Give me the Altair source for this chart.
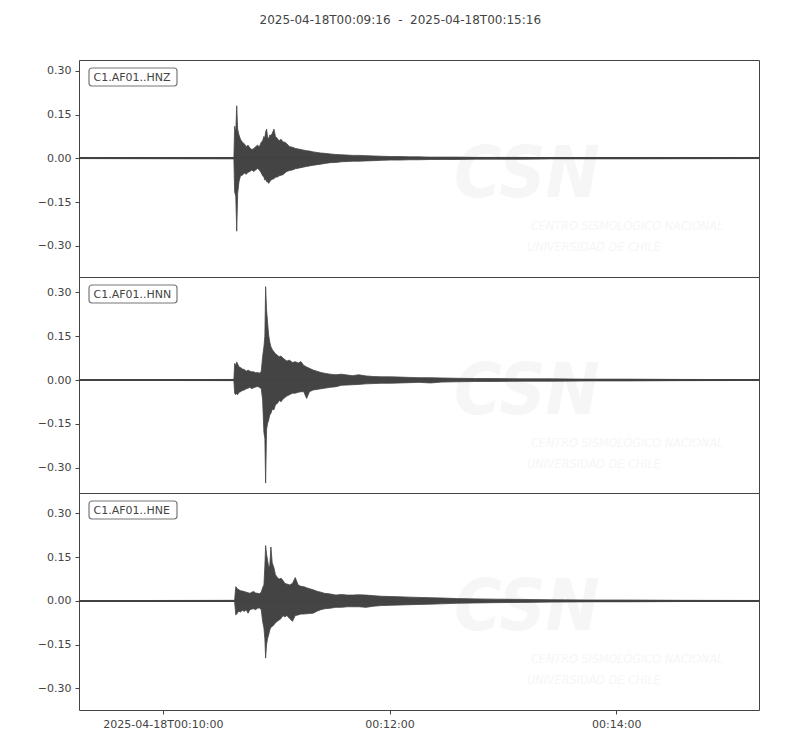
import altair as alt
import pandas as pd

# ---------------- data ----------------
START = pd.Timestamp("2025-04-18T00:09:15.600")
TITLE = "2025-04-18T00:09:16\u00a0\u00a0-\u00a0\u00a02025-04-18T00:15:16"
channels = ["C1.AF01..HNZ", "C1.AF01..HNN", "C1.AF01..HNE"]

# seconds after START
t_sec = [0, 82.0, 82.4, 83.0, 83.5, 84.0, 84.7, 85.5, 86.5, 87.5,
         88.5, 89.5, 90.5, 91.5, 92.5, 93.5, 94.5, 95.5, 96.5, 97.2,
         97.9, 98.4, 98.8, 99.3, 99.8, 100.4, 101.0, 101.6, 102.3, 103.2,
         104.0, 105.0, 106.0, 107.0, 108.0, 109.0, 110.0, 111.5, 113.0, 114.5,
         116.0, 117.5, 119.0, 120.5, 122.0, 124.0, 126.0, 128.0, 130.0, 133.0,
         136.0, 139.0, 142.0, 145.0, 148.0, 152.0, 156.0, 160.0, 165.0, 170.0,
         175.0, 180.0, 186.0, 192.0, 200.0, 210.0, 220.0, 235.0, 250.0, 270.0,
         290.0, 320.0, 360.0]

# upper / lower envelope of each trace
hnz_hi = [0.001, 0.002, 0.11, 0.09, 0.18, 0.10, 0.08, 0.065, 0.055, 0.05,
          0.04, 0.045, 0.035, 0.03, 0.033, 0.04, 0.045, 0.04, 0.055, 0.06,
          0.075, 0.07, 0.09, 0.10, 0.075, 0.065, 0.08, 0.078, 0.085, 0.10,
          0.075, 0.068, 0.06, 0.065, 0.056, 0.055, 0.05, 0.04, 0.038, 0.034,
          0.032, 0.03, 0.028, 0.026, 0.025, 0.022, 0.02, 0.018, 0.017, 0.015,
          0.013, 0.012, 0.011, 0.01, 0.01, 0.009, 0.008, 0.007, 0.006, 0.006,
          0.005, 0.005, 0.004, 0.004, 0.004, 0.003, 0.003, 0.003, 0.002, 0.002,
          0.002, 0.0015, 0.001]
hnz_lo = [-0.001, -0.002, -0.115, -0.13, -0.25, -0.12, -0.08, -0.06, -0.058, -0.05,
          -0.055, -0.048, -0.045, -0.04, -0.045, -0.04, -0.035, -0.04, -0.05, -0.06,
          -0.065, -0.075, -0.07, -0.08, -0.08, -0.086, -0.08, -0.075, -0.072, -0.07,
          -0.065, -0.064, -0.06, -0.058, -0.056, -0.05, -0.045, -0.042, -0.04, -0.036,
          -0.034, -0.032, -0.03, -0.028, -0.026, -0.024, -0.022, -0.02, -0.018, -0.015,
          -0.014, -0.012, -0.011, -0.01, -0.01, -0.009, -0.008, -0.007, -0.006, -0.006,
          -0.005, -0.005, -0.004, -0.004, -0.004, -0.003, -0.003, -0.003, -0.002, -0.002,
          -0.002, -0.0015, -0.001]

hnn_hi = [0.001, 0.002, 0.057, 0.05, 0.062, 0.055, 0.045, 0.043, 0.038, 0.036,
          0.03, 0.034, 0.03, 0.028, 0.028, 0.025, 0.026, 0.023, 0.03, 0.08,
          0.114, 0.15, 0.32, 0.24, 0.20, 0.154, 0.13, 0.114, 0.105, 0.097,
          0.09, 0.085, 0.08, 0.082, 0.075, 0.07, 0.065, 0.068, 0.06, 0.063,
          0.058, 0.063, 0.05, 0.045, 0.04, 0.034, 0.03, 0.026, 0.023, 0.02,
          0.018, 0.02, 0.017, 0.015, 0.018, 0.014, 0.012, 0.011, 0.011, 0.01,
          0.009, 0.008, 0.008, 0.007, 0.006, 0.005, 0.005, 0.004, 0.004, 0.003,
          0.003, 0.002, 0.0015]
hnn_lo = [-0.001, -0.002, -0.045, -0.05, -0.045, -0.05, -0.042, -0.04, -0.036, -0.034,
          -0.03, -0.028, -0.025, -0.03, -0.026, -0.024, -0.022, -0.025, -0.03, -0.068,
          -0.18, -0.20, -0.353, -0.17, -0.15, -0.137, -0.12, -0.114, -0.10, -0.102,
          -0.085, -0.08, -0.07, -0.074, -0.065, -0.06, -0.055, -0.05, -0.045, -0.045,
          -0.042, -0.04, -0.04, -0.063, -0.04, -0.034, -0.032, -0.03, -0.028, -0.025,
          -0.023, -0.018, -0.017, -0.016, -0.015, -0.013, -0.012, -0.011, -0.011, -0.01,
          -0.009, -0.008, -0.01, -0.007, -0.006, -0.005, -0.005, -0.004, -0.004, -0.003,
          -0.003, -0.002, -0.0015]

hne_hi = [0.001, 0.002, 0.003, 0.049, 0.045, 0.04, 0.038, 0.035, 0.034, 0.032,
          0.03, 0.028, 0.026, 0.03, 0.032, 0.027, 0.026, 0.025, 0.03, 0.045,
          0.055, 0.12, 0.19, 0.16, 0.14, 0.117, 0.12, 0.185, 0.13, 0.114,
          0.09, 0.08, 0.075, 0.078, 0.07, 0.06, 0.058, 0.055, 0.06, 0.08,
          0.055, 0.05, 0.049, 0.045, 0.042, 0.038, 0.033, 0.03, 0.026, 0.024,
          0.02, 0.022, 0.02, 0.02, 0.021, 0.02, 0.018, 0.016, 0.015, 0.014,
          0.013, 0.012, 0.011, 0.01, 0.008, 0.007, 0.006, 0.005, 0.004, 0.003,
          0.003, 0.002, 0.0015]
hne_lo = [-0.001, -0.002, -0.003, -0.048, -0.045, -0.04, -0.035, -0.038, -0.032, -0.036,
          -0.03, -0.042, -0.03, -0.028, -0.027, -0.03, -0.025, -0.024, -0.03, -0.07,
          -0.093, -0.13, -0.196, -0.15, -0.13, -0.116, -0.10, -0.09, -0.088, -0.082,
          -0.075, -0.07, -0.065, -0.06, -0.05, -0.055, -0.05, -0.06, -0.07, -0.05,
          -0.048, -0.045, -0.045, -0.044, -0.043, -0.042, -0.035, -0.03, -0.027, -0.025,
          -0.022, -0.022, -0.02, -0.02, -0.02, -0.022, -0.018, -0.016, -0.015, -0.014,
          -0.013, -0.012, -0.011, -0.01, -0.008, -0.007, -0.006, -0.005, -0.004, -0.003,
          -0.003, -0.002, -0.0015]

highs = [hnz_hi, hnn_hi, hne_hi]
lows = [hnz_lo, hnn_lo, hne_lo]
y_domains = [[-0.407, 0.337], [-0.387, 0.353], [-0.374, 0.370]]
y_ticks = [-0.30, -0.15, 0.0, 0.15, 0.30]

# ---------------- styling ----------------
INK = "#444444"
FONT = "DejaVu Sans"
WM_FONT = "Liberation Sans Narrow, DejaVu Sans Condensed, DejaVu Sans"
WM_COLOR = "#f6f6f6"
W = 680
HEIGHTS = [217, 216, 217]


def dt(m, s, ms=0):
    return alt.DateTime(year=2025, month=4, date=18, hours=0, minutes=m,
                        seconds=s, milliseconds=ms, utc=True)


x_domain = [dt(9, 15, 600), dt(15, 15, 600)]
x_ticks = [dt(10, 0), dt(12, 0), dt(14, 0)]


def panel(i, show_x):
    times = [(START + pd.to_timedelta(s, unit="s")).strftime("%Y-%m-%dT%H:%M:%S.%f")[:-3] + "Z"
             for s in t_sec]
    df = pd.DataFrame({"time": times, "hi": highs[i], "lo": lows[i]})
    if show_x:
        xaxis = alt.Axis(values=x_ticks, title=None, grid=False, domain=False,
                         labelExpr="utcFormat(datum.value, '%H:%M') == '00:10' ? "
                                   "utcFormat(datum.value, '%Y-%m-%dT%H:%M:%S') : "
                                   "utcFormat(datum.value, '%H:%M:%S')")
    else:
        xaxis = None
    x = alt.X("time:T", scale=alt.Scale(type="utc", domain=x_domain), axis=xaxis)
    y = alt.Y("hi:Q", scale=alt.Scale(domain=y_domains[i], nice=False, zero=False),
              axis=alt.Axis(values=y_ticks, format=".2f", title=None, grid=False,
                            domain=False))

    one = alt.Chart(pd.DataFrame({"label": [channels[i]]}))
    wm_big = one.mark_text(text="CSN", font=WM_FONT, fontSize=72, fontStyle="italic",
                           fontWeight="bold", color=WM_COLOR, align="left",
                           baseline="alphabetic").encode(
        x=alt.value(375), y=alt.value(137))
    wm_l1 = one.mark_text(text="CENTRO SISMOLÓGICO NACIONAL", font=WM_FONT,
                          fontSize=12.5, fontStyle="italic", color=WM_COLOR,
                          align="left", baseline="alphabetic").encode(
        x=alt.value(452), y=alt.value(170))
    wm_l2 = one.mark_text(text="UNIVERSIDAD DE CHILE", font=WM_FONT,
                          fontSize=12.5, fontStyle="italic", color=WM_COLOR,
                          align="left", baseline="alphabetic").encode(
        x=alt.value(448), y=alt.value(191))

    base = alt.Chart(df)
    area = base.mark_area(color=INK, stroke=INK, strokeWidth=0.8,
                          interpolate="linear").encode(x=x, y=y, y2="lo:Q")
    zero = base.mark_rule(color=INK, strokeWidth=1).encode(y=alt.datum(0))

    box = one.mark_rect(fill="white", stroke="#777777", strokeWidth=1.2,
                        cornerRadius=3).encode(
        x=alt.value(10), x2=alt.value(98), y=alt.value(8), y2=alt.value(26))
    lab = one.mark_text(font=FONT, fontSize=11, color=INK, align="left",
                        baseline="middle").encode(
        x=alt.value(14.5), y=alt.value(17.5), text="label:N")

    return alt.layer(wm_big, wm_l1, wm_l2, area, zero, box, lab).properties(
        width=W, height=HEIGHTS[i])


chart = alt.vconcat(
    panel(0, False), panel(1, False), panel(2, True), spacing=0, bounds="flush"
).properties(
    background="white",
    title=alt.TitleParams(TITLE, font=FONT, fontSize=12, fontWeight="normal",
                          color=INK, anchor="middle", offset=33, dx=13)
).configure_view(
    stroke=INK, strokeWidth=1
).configure_axis(
    labelFont=FONT, labelFontSize=11, labelColor=INK, tickColor=INK,
    domainColor=INK, tickSize=4, labelPadding=4
).configure_axisY(
    minExtent=65, maxExtent=65
)

chart.save("out.html", embed_options={"renderer": "svg", "actions": False})
